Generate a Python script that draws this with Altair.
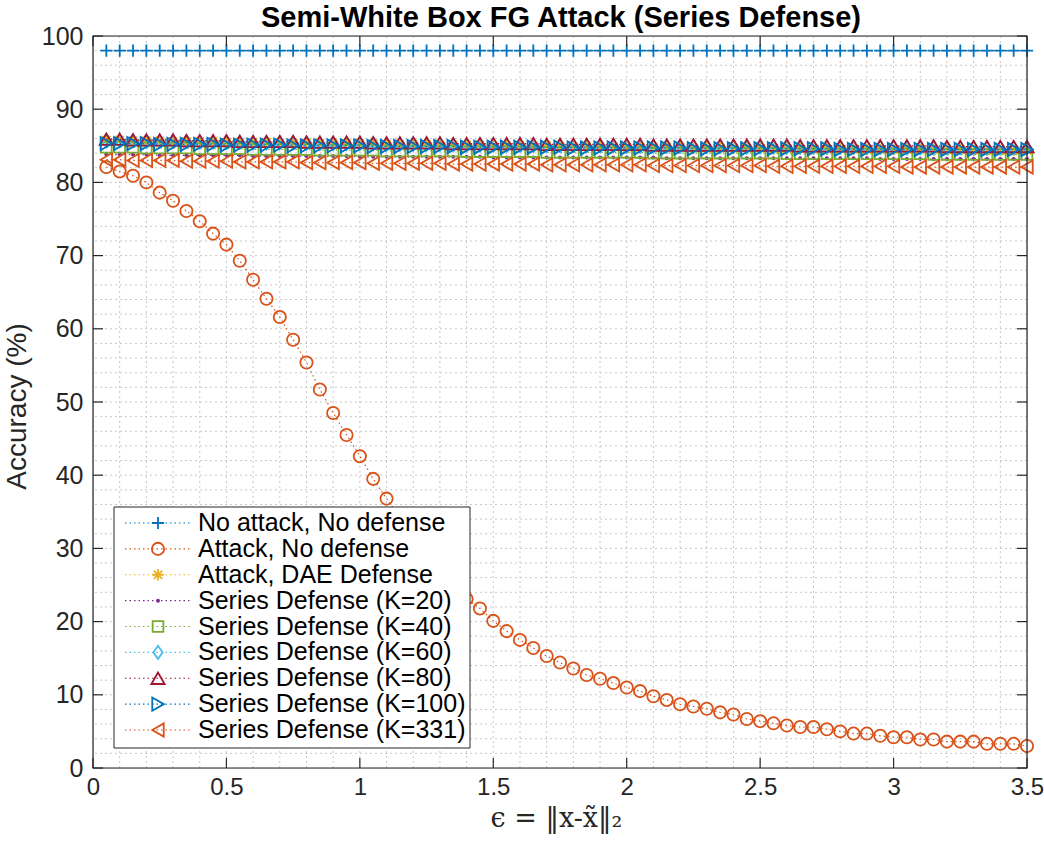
import altair as alt
import pandas as pd

# ---------------- data ----------------
eps = [0.05, 0.1, 0.15, 0.2, 0.25, 0.3, 0.35, 0.4, 0.45, 0.5,
       0.55, 0.6, 0.65, 0.7, 0.75, 0.8, 0.85, 0.9, 0.95, 1.0,
       1.05, 1.1, 1.15, 1.2, 1.25, 1.3, 1.35, 1.4, 1.45, 1.5,
       1.55, 1.6, 1.65, 1.7, 1.75, 1.8, 1.85, 1.9, 1.95, 2.0,
       2.05, 2.1, 2.15, 2.2, 2.25, 2.3, 2.35, 2.4, 2.45, 2.5,
       2.55, 2.6, 2.65, 2.7, 2.75, 2.8, 2.85, 2.9, 2.95, 3.0,
       3.05, 3.1, 3.15, 3.2, 3.25, 3.3, 3.35, 3.4, 3.45, 3.5]

acc_no_attack = [98.0, 98.0, 98.0, 98.0, 98.0, 98.0, 98.0, 98.0, 98.0, 98.0,
                 98.0, 98.0, 98.0, 98.0, 98.0, 98.0, 98.0, 98.0, 98.0, 98.0,
                 98.0, 98.0, 98.0, 98.0, 98.0, 98.0, 98.0, 98.0, 98.0, 98.0,
                 98.0, 98.0, 98.0, 98.0, 98.0, 98.0, 98.0, 98.0, 98.0, 98.0,
                 98.0, 98.0, 98.0, 98.0, 98.0, 98.0, 98.0, 98.0, 98.0, 98.0,
                 98.0, 98.0, 98.0, 98.0, 98.0, 98.0, 98.0, 98.0, 98.0, 98.0,
                 98.0, 98.0, 98.0, 98.0, 98.0, 98.0, 98.0, 98.0, 98.0, 98.0]

acc_attack = [82.1, 81.5, 80.9, 80.0, 78.6, 77.5, 76.1, 74.7, 73.0, 71.5,
              69.3, 66.7, 64.1, 61.6, 58.5, 55.4, 51.7, 48.5, 45.5, 42.6,
              39.5, 36.8, 34.2, 31.4, 29.1, 26.9, 24.8, 23.1, 21.8, 20.1,
              18.7, 17.5, 16.4, 15.3, 14.4, 13.6, 12.7, 12.2, 11.6, 11.0,
              10.5, 9.8, 9.3, 8.7, 8.4, 8.1, 7.6, 7.3, 6.7, 6.4,
              6.1, 5.8, 5.6, 5.6, 5.3, 5.0, 4.7, 4.7, 4.4, 4.2,
              4.2, 3.9, 3.9, 3.6, 3.6, 3.6, 3.3, 3.3, 3.3, 3.0]

acc_dae = [85.8, 85.8, 85.7, 85.7, 85.7, 85.6, 85.6, 85.6, 85.6, 85.5,
           85.5, 85.5, 85.5, 85.4, 85.4, 85.4, 85.4, 85.3, 85.3, 85.3,
           85.3, 85.2, 85.2, 85.2, 85.2, 85.1, 85.1, 85.1, 85.1, 85.0,
           85.0, 85.0, 85.0, 85.0, 84.9, 84.9, 84.9, 84.9, 84.9, 84.8,
           84.8, 84.8, 84.8, 84.8, 84.7, 84.7, 84.7, 84.7, 84.7, 84.7,
           84.6, 84.6, 84.6, 84.6, 84.6, 84.6, 84.6, 84.5, 84.5, 84.5,
           84.5, 84.5, 84.5, 84.5, 84.5, 84.4, 84.4, 84.4, 84.4, 84.4]

acc_k20 = [83.8, 83.8, 83.8, 83.8, 83.7, 83.7, 83.7, 83.7, 83.7, 83.7,
           83.7, 83.6, 83.6, 83.6, 83.6, 83.6, 83.6, 83.6, 83.6, 83.5,
           83.5, 83.5, 83.5, 83.5, 83.5, 83.5, 83.5, 83.5, 83.5, 83.4,
           83.4, 83.4, 83.4, 83.4, 83.4, 83.4, 83.4, 83.4, 83.4, 83.4,
           83.4, 83.4, 83.3, 83.3, 83.3, 83.3, 83.3, 83.3, 83.3, 83.3,
           83.3, 83.3, 83.3, 83.3, 83.3, 83.3, 83.3, 83.3, 83.2, 83.2,
           83.2, 83.2, 83.2, 83.2, 83.2, 83.2, 83.2, 83.2, 83.2, 83.2]

acc_k40 = [84.8, 84.8, 84.8, 84.7, 84.7, 84.7, 84.7, 84.6, 84.6, 84.6,
           84.6, 84.5, 84.5, 84.5, 84.5, 84.5, 84.4, 84.4, 84.4, 84.4,
           84.4, 84.3, 84.3, 84.3, 84.3, 84.3, 84.3, 84.2, 84.2, 84.2,
           84.2, 84.2, 84.2, 84.1, 84.1, 84.1, 84.1, 84.1, 84.1, 84.1,
           84.1, 84.0, 84.0, 84.0, 84.0, 84.0, 84.0, 84.0, 84.0, 84.0,
           84.0, 83.9, 83.9, 83.9, 83.9, 83.9, 83.9, 83.9, 83.9, 83.9,
           83.9, 83.9, 83.8, 83.8, 83.8, 83.8, 83.8, 83.8, 83.8, 83.8]

acc_k60 = [85.7, 85.7, 85.7, 85.6, 85.6, 85.6, 85.6, 85.5, 85.5, 85.5,
           85.5, 85.4, 85.4, 85.4, 85.4, 85.4, 85.3, 85.3, 85.3, 85.3,
           85.3, 85.2, 85.2, 85.2, 85.2, 85.2, 85.1, 85.1, 85.1, 85.1,
           85.1, 85.1, 85.0, 85.0, 85.0, 85.0, 85.0, 85.0, 85.0, 84.9,
           84.9, 84.9, 84.9, 84.9, 84.9, 84.9, 84.9, 84.9, 84.8, 84.8,
           84.8, 84.8, 84.8, 84.8, 84.8, 84.8, 84.8, 84.8, 84.8, 84.8,
           84.7, 84.7, 84.7, 84.7, 84.7, 84.7, 84.7, 84.7, 84.7, 84.7]

acc_k80 = [85.9, 85.9, 85.8, 85.8, 85.8, 85.8, 85.7, 85.7, 85.7, 85.7,
           85.6, 85.6, 85.6, 85.6, 85.6, 85.5, 85.5, 85.5, 85.5, 85.5,
           85.4, 85.4, 85.4, 85.4, 85.4, 85.4, 85.3, 85.3, 85.3, 85.3,
           85.3, 85.3, 85.3, 85.2, 85.2, 85.2, 85.2, 85.2, 85.2, 85.2,
           85.2, 85.1, 85.1, 85.1, 85.1, 85.1, 85.1, 85.1, 85.1, 85.1,
           85.1, 85.1, 85.0, 85.0, 85.0, 85.0, 85.0, 85.0, 85.0, 85.0,
           85.0, 85.0, 85.0, 84.9, 84.9, 84.9, 84.9, 84.9, 84.9, 84.9]

acc_k100 = [85.3, 85.3, 85.3, 85.3, 85.2, 85.2, 85.2, 85.2, 85.2, 85.1,
            85.1, 85.1, 85.1, 85.1, 85.0, 85.0, 85.0, 85.0, 85.0, 85.0,
            84.9, 84.9, 84.9, 84.9, 84.9, 84.9, 84.9, 84.8, 84.8, 84.8,
            84.8, 84.8, 84.8, 84.8, 84.8, 84.7, 84.7, 84.7, 84.7, 84.7,
            84.7, 84.7, 84.7, 84.7, 84.6, 84.6, 84.6, 84.6, 84.6, 84.6,
            84.6, 84.6, 84.6, 84.6, 84.6, 84.5, 84.5, 84.5, 84.5, 84.5,
            84.5, 84.5, 84.5, 84.5, 84.5, 84.5, 84.5, 84.5, 84.5, 84.5]

acc_k331 = [83.1, 83.1, 83.0, 83.0, 83.0, 83.0, 82.9, 82.9, 82.9, 82.9,
            82.8, 82.8, 82.8, 82.8, 82.8, 82.7, 82.7, 82.7, 82.7, 82.7,
            82.6, 82.6, 82.6, 82.6, 82.6, 82.6, 82.5, 82.5, 82.5, 82.5,
            82.5, 82.5, 82.5, 82.4, 82.4, 82.4, 82.4, 82.4, 82.4, 82.4,
            82.4, 82.3, 82.3, 82.3, 82.3, 82.3, 82.3, 82.3, 82.3, 82.3,
            82.2, 82.2, 82.2, 82.2, 82.2, 82.2, 82.2, 82.2, 82.2, 82.2,
            82.1, 82.1, 82.1, 82.1, 82.1, 82.1, 82.1, 82.1, 82.1, 82.1]

series_names = ["No attack, No defense", "Attack, No defense", "Attack, DAE Defense",
                "Series Defense (K=20)", "Series Defense (K=40)", "Series Defense (K=60)",
                "Series Defense (K=80)", "Series Defense (K=100)", "Series Defense (K=331)"]
series_values = [acc_no_attack, acc_attack, acc_dae, acc_k20, acc_k40,
                 acc_k60, acc_k80, acc_k100, acc_k331]

x_tick_values = [0, 0.5, 1, 1.5, 2, 2.5, 3, 3.5]
y_tick_values = [0, 10, 20, 30, 40, 50, 60, 70, 80, 90, 100]

chart_title = "Semi-White Box FG Attack (Series Defense)"

# ---------------- styles ----------------
colors = ["#0072BD", "#D95319", "#EDB120", "#7E2F8E", "#77AC30",
          "#4DBEEE", "#A2142F", "#0072BD", "#D95319"]
PLUS = "M-1,0L1,0M0,-1L0,1"
STAR = "M-1,0L1,0M0,-1L0,1M-0.72,-0.72L0.72,0.72M-0.72,0.72L0.72,-0.72"
DIAMOND = "M0,-1L0.72,0L0,1L-0.72,0Z"
marker_styles = [
    dict(shape=PLUS, size=150, filled=False),
    dict(shape="circle", size=150, filled=False),
    dict(shape=STAR, size=130, filled=False),
    dict(shape="circle", size=16, filled=True),
    dict(shape="square", size=115, filled=False),
    dict(shape=DIAMOND, size=170, filled=False),
    dict(shape="triangle-up", size=175, filled=False),
    dict(shape="triangle-right", size=175, filled=False),
    dict(shape="triangle-left", size=175, filled=False),
]

W, H = 934, 732
AX = "#262626"
FONT = "Liberation Sans"

x_minor = [i / 10 for i in range(1, 35)]
y_minor = list(range(2, 100, 2))

xs = alt.Scale(domain=[0, 3.5], nice=False, zero=False)
ys = alt.Scale(domain=[0, 100], nice=False, zero=False)

X_AXIS = alt.Axis(values=x_tick_values, format="~g", grid=False, ticks=False, domain=False,
                  labelFont=FONT, labelFontSize=24, labelColor=AX, labelPadding=7,
                  labelFlush=False,
                  title="ϵ = ‖x-x̃‖₂", titleFont="DejaVu Serif", titleFontSize=27,
                  titleFontWeight="normal", titleColor=AX,
                  titleX=W / 2 - 4, titleY=50, titleBaseline="middle", titleAlign="center")
Y_AXIS = alt.Axis(values=y_tick_values, grid=False, ticks=False, domain=False,
                  labelFont=FONT, labelFontSize=25, labelColor=AX, labelPadding=10,
                  labelFlush=False,
                  title="Accuracy (%)", titleFont=FONT, titleFontSize=28,
                  titleFontWeight="normal", titleColor=AX,
                  titleX=-76, titleY=H / 2 + 4, titleBaseline="middle", titleAlign="center")

def X(field="x"):
    return alt.X(f"{field}:Q", scale=xs, axis=X_AXIS)

def Y(field="y"):
    return alt.Y(f"{field}:Q", scale=ys, axis=Y_AXIS)

layers = []
# grid
layers.append(alt.Chart(pd.DataFrame({"x": x_minor})).mark_rule(
    color="#c8c8c8", strokeDash=[2, 3], strokeWidth=1).encode(x=X()))
layers.append(alt.Chart(pd.DataFrame({"y": y_minor})).mark_rule(
    color="#c8c8c8", strokeDash=[2, 3], strokeWidth=1).encode(y=Y()))

# data
for name, vals, col, ms in zip(series_names, series_values, colors, marker_styles):
    df = pd.DataFrame({"x": eps, "y": vals})
    layers.append(alt.Chart(df).mark_line(color=col, strokeDash=[1.5, 3], strokeWidth=1.2)
                  .encode(x=X(), y=Y()))
    layers.append(alt.Chart(df).mark_point(color=col, opacity=1, strokeWidth=1.8, **ms)
                  .encode(x=X(), y=Y()))

# box and inward ticks
layers.append(alt.Chart(pd.DataFrame({"a": [0]})).mark_rect(
    fillOpacity=0, stroke=AX, strokeWidth=1.2).encode(
    x=alt.value(0), x2=alt.value(W), y=alt.value(0), y2=alt.value(H)))
xt = pd.DataFrame({"x": x_tick_values})
yt = pd.DataFrame({"y": y_tick_values})
layers.append(alt.Chart(xt).mark_rule(color=AX, strokeWidth=1.2).encode(
    x=X(), y=alt.value(H - 10), y2=alt.value(H)))
layers.append(alt.Chart(xt).mark_rule(color=AX, strokeWidth=1.2).encode(
    x=X(), y=alt.value(0), y2=alt.value(10)))
layers.append(alt.Chart(yt).mark_rule(color=AX, strokeWidth=1.2).encode(
    y=Y(), x=alt.value(0), x2=alt.value(10)))
layers.append(alt.Chart(yt).mark_rule(color=AX, strokeWidth=1.2).encode(
    y=Y(), x=alt.value(W - 10), x2=alt.value(W)))

main = alt.layer(*layers)

# ---------------- legend + title ----------------
LS = alt.Scale(domain=[0, 8], range=[487, 694], nice=False, zero=False)
leg = [alt.Chart(pd.DataFrame({"a": [0]})).mark_rect(
    fill="white", stroke=AX, strokeWidth=1).encode(
    x=alt.value(21), x2=alt.value(377), y=alt.value(471), y2=alt.value(712))]
for i, (name, col, ms) in enumerate(zip(series_names, colors, marker_styles)):
    d = pd.DataFrame({"row": [i], "label": [name]})
    ly = alt.Y("row:Q", scale=LS, axis=None)
    leg.append(alt.Chart(d).mark_rule(color=col, strokeDash=[1.5, 3], strokeWidth=1.2)
               .encode(y=ly, x=alt.value(32), x2=alt.value(98)))
    leg.append(alt.Chart(d).mark_point(color=col, opacity=1, strokeWidth=1.8, **ms)
               .encode(y=ly, x=alt.value(65)))
    leg.append(alt.Chart(d).mark_text(align="left", baseline="middle", font=FONT,
                                      fontSize=25, color="#000000")
               .encode(y=ly, x=alt.value(105), text="label:N"))
leg.append(alt.Chart(pd.DataFrame({"t": [chart_title]})).mark_text(
    align="center", baseline="alphabetic", font=FONT, fontSize=29, fontWeight="bold",
    color="#000000").encode(x=alt.value(W / 2 + 1), y=alt.value(-9), text="t:N"))
legend = alt.layer(*leg)

chart = alt.layer(main, legend).resolve_scale(y="independent").properties(
    width=W, height=H,
    autosize=alt.AutoSizeParams(type="none"),
    padding={"left": 93, "top": 36, "right": 17, "bottom": 97},
).configure_view(strokeWidth=0).configure(background="white")

chart.save("out.html", embed_options={"renderer": "svg", "actions": False})
